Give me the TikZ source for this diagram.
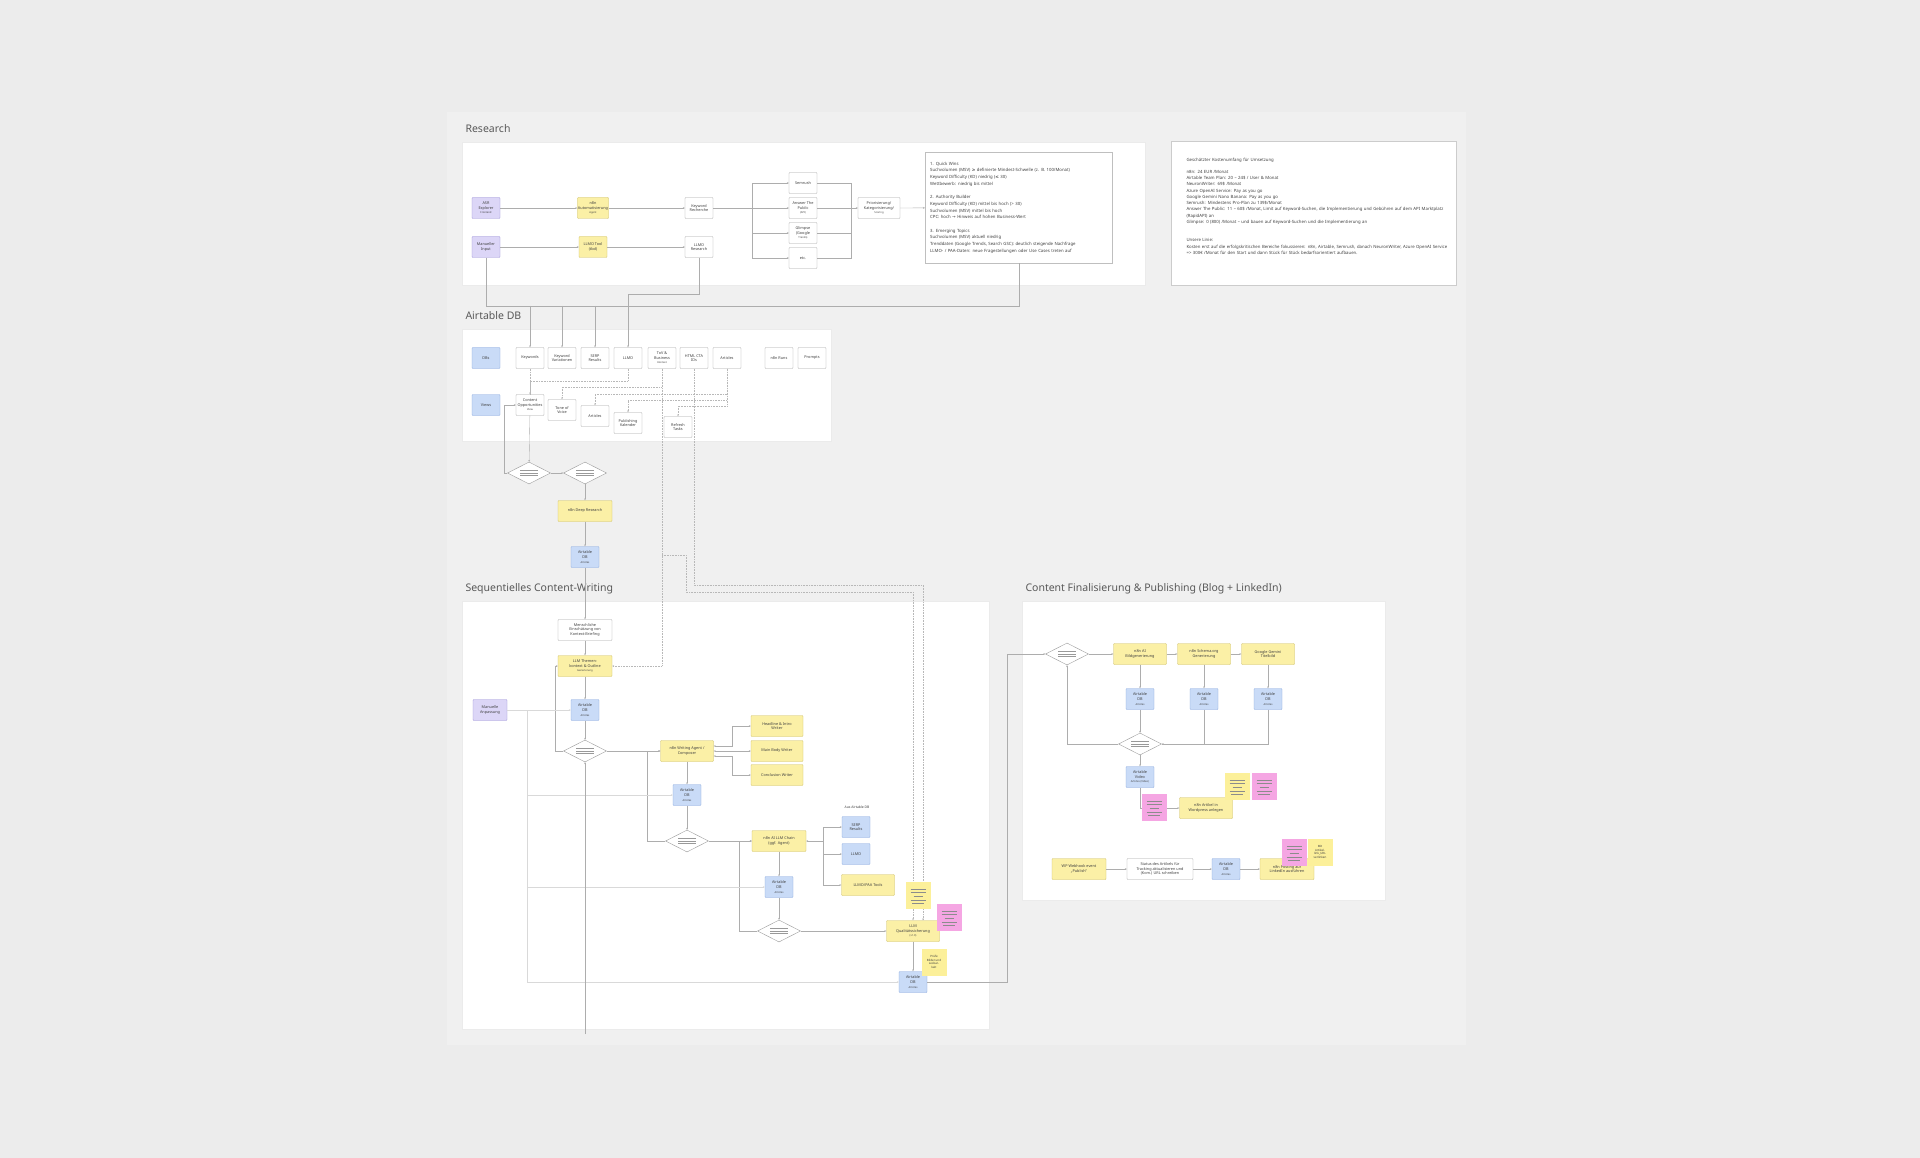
\documentclass[tikz,border=0pt]{standalone}
\usepackage{fontspec}
\setmainfont{Noto Sans}
\newfontfamily\symfont{DejaVu Sans}
\usetikzlibrary{shapes.geometric,arrows.meta,positioning}
\definecolor{bgcol}{HTML}{ECECEC}
\definecolor{framecol}{HTML}{F0F0F0}
\definecolor{mypurple}{HTML}{DCD6F7}
\definecolor{mypurpledraw}{HTML}{9A8FD6}
\definecolor{myyellow}{HTML}{FBF0A6}
\definecolor{myyellowdraw}{HTML}{CDBE63}
\definecolor{myblue}{HTML}{C9DBF7}
\definecolor{mybluedraw}{HTML}{89A8DE}
\definecolor{mypink}{HTML}{F5A6E3}
\definecolor{mysticky}{HTML}{FCF09A}
\newcommand{\smalltxt}[1]{{\fontsize{2.6}{3.2}\selectfont #1}}

\begin{document}
\begin{tikzpicture}[x=1pt,y=-1pt,
  every node/.style={font=\fontsize{3.8}{4.6}\selectfont,text=black!75,align=center},
  box/.style={rectangle,draw,rounded corners=0.8pt,minimum width=28pt,minimum height=21pt,inner sep=0.5pt},
  pbox/.style={box,fill=mypurple,draw=mypurpledraw},
  ybox/.style={box,fill=myyellow,draw=myyellowdraw},
  bbox/.style={box,fill=myblue,draw=mybluedraw},
  wbox/.style={box,fill=white,draw=black!35},
  dia/.style={diamond,draw=black!40,fill=white,minimum width=43pt,minimum height=22pt,inner sep=0pt,
    path picture={\foreach \k in {-1,0,1}{\draw[black!40,line width=0.5pt] (path picture bounding box.center) ++(-9pt,{\k*2.6pt}) -- ++(18pt,0pt);}}},
  sticky/.style={rectangle,minimum width=25pt,minimum height=27pt,inner sep=0pt,
    path picture={\foreach \k/\w in {1/15,2/15,3/9,4/15,5/12}{\draw[black!45,line width=0.6pt] (path picture bounding box.north west) ++({12.5pt-\w*0.5pt},{-4pt-\k*3.6pt}) -- ++(\w pt,0pt);}}},
  ysticky/.style={sticky,fill=mysticky},
  psticky/.style={sticky,fill=mypink},
  tsticky/.style={rectangle,fill=mysticky,minimum width=25pt,minimum height=27pt,inner sep=0.5pt,font=\fontsize{2.9}{3.5}\selectfont},
  panel/.style={fill=white,draw=black!8},
  title/.style={anchor=west,font=\fontsize{10.5}{12}\selectfont,text=black!65},
  conn/.style={draw=black!32,line width=0.35pt},
  arr/.style={conn,-{Stealth[length=2pt,width=1.8pt]}},
  biarr/.style={conn,{Stealth[length=2pt,width=1.8pt]}-{Stealth[length=2pt,width=1.8pt]}},
  dot/.style={arr,draw=black!28,dash pattern=on 0.8pt off 0.8pt},
  faint/.style={arr,draw=black!15}]

\fill[bgcol] (0,0) rectangle (1920,1158);
\useasboundingbox (0,0) rectangle (1920,1158);
\fill[framecol] (447,112) rectangle (1466,1045);

% panels
\node[title] at (462,129) {Research};
\path[panel] (462,142) rectangle (1145,285);
\node[title] at (462,316) {Airtable DB};
\path[panel] (462,329) rectangle (831,441);
\node[title] at (462,589) {Sequentielles Content-Writing};
\path[panel] (462,601) rectangle (989,1029);
\node[title] at (1022,589) {Content Finalisierung \& Publishing (Blog + LinkedIn)};
\path[panel] (1022,601) rectangle (1385,900);
\path[panel,draw=black!20] (1171,141) rectangle (1456,285);

% research
\node[pbox] (asr) at (486,208) {ASR\\Explorer\\\smalltxt{Frontend}};
\node[pbox] (input) at (486,247) {Manueller\\Input};
\node[ybox] (auto) at (593,208) {n8n\\Automatisierung\\\smalltxt{Agent}};
\node[ybox] (llmotool) at (593,247) {LLMO Tool\\(tbd)};
\node[wbox] (kwres) at (699,208) {Keyword\\Recherche};
\node[wbox] (llmores) at (699,247) {LLMO\\Research};
\node[wbox] (semrush) at (803,183) {Semrush};
\node[wbox] (atp) at (803,208) {Answer The\\Public\\\smalltxt{(API)}};
\node[wbox] (glimpse) at (803,233) {Glimpse\\(Google\\\smalltxt{Trends)}};
\node[wbox] (etc) at (803,258) {etc.};
\node[wbox,minimum width=42pt] (score) at (879,208) {Priorisierung/\\Kategorisierung/\\\smalltxt{Scoring}};
\node[wbox,draw=black!25,anchor=north west,minimum width=187pt,minimum height=111pt,text width=177pt,inner sep=5pt,
  align=left,rounded corners=0pt,font=\fontsize{4.3}{6.7}\selectfont] (crit) at (925,152) {%
\textbf{1. Quick Wins}\\
Suchvolumen (MSV) {\symfont ≥} definierte Mindest-Schwelle (z. B. 100/Monat)\\
Keyword Difficulty (KD) niedrig ({\symfont ≤} 30)\\
Wettbewerb: niedrig bis mittel\\[6.7pt]
\textbf{2. Authority Builder}\\
Keyword Difficulty (KD) mittel bis hoch (> 30)\\
Suchvolumen (MSV) mittel bis hoch\\
CPC: hoch {\symfont →} Hinweis auf hohen Business-Wert\\[6.7pt]
\textbf{3. Emerging Topics}\\
Suchvolumen (MSV) aktuell niedrig\\
Trenddaten (Google Trends, Search GSC): deutlich steigende Nachfrage\\
LLMO- / PAA-Daten: neue Fragestellungen oder Use Cases treten auf};

% notes
\node[anchor=north west,text width=262pt,align=left,font=\fontsize{4.3}{6.3}\selectfont] (costs) at (1183,155) {%
\textbf{Geschätzter Kostenumfang für Umsetzung}\\[5pt]
\textbf{n8n:} 24 EUR /Monat\\
\textbf{Airtable Team Plan:} 20 – 24\$ / User \& Monat\\
\textbf{NeuronWriter:} 69\$ /Monat\\
\textbf{Azure OpenAI Service:} Pay as you go\\
\textbf{Google Gemini Nano Banana:} Pay as you go\\
\textbf{Semrush:} Mindestens Pro-Plan zu 139\$/Monat\\
\textbf{Answer The Public:} 11 – 60\$ /Monat, Limit auf Keyword-Suchen, die Implementierung und Gebühren auf dem API Marktplatz (RapidAPI) an\\
\textbf{Glimpse:} 0 (800) /Monat – und bauen auf Keyword-Suchen und die Implementierung an\\[12pt]
Unsere Linie:\\
Kosten erst auf die erfolgskritischen Bereiche fokussieren: n8n, Airtable, Semrush, danach NeuronWriter, Azure OpenAI Service => 300€ /Monat für den Start und dann Stück für Stück bedarfsorientiert aufbauen.};

% airtable
\node[bbox] (dbs) at (486,358) {DBs};
\node[bbox] (views) at (486,405) {Views};
\node[wbox] (a_kw) at (530,358) {Keywords};
\node[wbox] (a_kwv) at (562,358) {Keyword\\Variationen};
\node[wbox] (a_serp) at (595,358) {SERP\\Results};
\node[wbox] (a_llmo) at (628,358) {LLMO};
\node[wbox] (a_tov) at (662,358) {ToV \&\\Business\\\smalltxt{Kontext}};
\node[wbox] (a_cta) at (694,358) {HTML CTA\\IDs};
\node[wbox] (a_art) at (727,358) {Articles};
\node[wbox] (a_runs) at (779,358) {n8n Runs};
\node[wbox] (a_prompts) at (812,358) {Prompts};
\node[wbox] (v_opp) at (530,405) {Content\\Opportunities\\\smalltxt{View}};
\node[wbox] (v_tov) at (562,410) {Tone of\\Voice};
\node[wbox] (v_art) at (595,416) {Articles};
\node[wbox] (v_pub) at (628,423) {Publishing\\Kalender};
\node[wbox] (v_ref) at (678,427) {Refresh\\Tasks};

% deep research
\node[dia] (d1) at (529,473) {};
\node[dia] (d2) at (585,473) {};
\node[ybox,minimum width=54pt] (deep) at (585,511) {n8n Deep Research};
\node[bbox] (deepdb) at (585,557) {Airtable\\DB\\\smalltxt{Articles}};

% writing
\node[wbox,minimum width=54pt] (s_human) at (585,630) {Menschliche\\Einschätzung von\\Kontext-Briefing};
\node[ybox,minimum width=54pt] (s_outline) at (585,666) {LLM Themen-\\kontext \& Outline\\\smalltxt{Generierung}};
\node[bbox] (s_db1) at (585,710) {Airtable\\DB\\\smalltxt{Articles}};
\node[pbox,minimum width=34pt] (s_manual) at (490,710) {Manuelle\\Anpassung};
\node[dia] (s_d1) at (585,751) {};
\node[ybox,minimum width=53pt] (s_comp) at (687,751) {n8n Writing Agent /\\Composer};
\node[ybox,minimum width=52pt] (s_head) at (777,726) {Headline \& Intro\\Writer};
\node[ybox,minimum width=52pt] (s_body) at (777,751) {Main Body Writer};
\node[ybox,minimum width=52pt] (s_concl) at (777,775) {Conclusion Writer};
\node[bbox] (s_db2) at (687,795) {Airtable\\DB\\\smalltxt{Articles}};
\node[dia] (s_d2) at (687,841) {};
\node[ybox,minimum width=54pt] (s_chain) at (779,841) {n8n AI LLM Chain\\(ggf. Agent)};
\node[font=\fontsize{3.4}{4}\selectfont] (s_from) at (857,807) {Aus Airtable DB};
\node[bbox] (s_serp) at (856,827) {SERP\\Results};
\node[bbox] (s_llmo) at (856,854) {LLMO};
\node[ybox,minimum width=53pt] (s_paa) at (868,885) {LLMO/PAA Tools};
\node[bbox] (s_db3) at (779,887) {Airtable\\DB\\\smalltxt{Articles}};
\node[dia] (s_d3) at (779,931) {};
\node[ybox,minimum width=53pt] (s_qa) at (913,931) {LLM\\Qualitätssicherung\\\smalltxt{(v1.0)}};
\node[bbox] (s_db4) at (913,982) {Airtable\\DB\\\smalltxt{Articles}};

% finalisierung
\node[dia] (c_d1) at (1067,654) {};
\node[ybox,minimum width=53pt] (c_img) at (1140,654) {n8n AI\\Bildgenerierung};
\node[ybox,minimum width=53pt] (c_schema) at (1204,654) {n8n Schema.org\\Generierung};
\node[ybox,minimum width=53pt] (c_gem) at (1268,654) {Google Gemini\\Titelbild};
\foreach \n/\x in {c_db1/1140,c_db2/1204,c_db3/1268}
  \node[bbox] (\n) at (\x,699) {Airtable\\DB\\\smalltxt{Articles}};
\node[dia] (c_d2) at (1140,744) {};
\node[bbox] (c_video) at (1140,777) {Airtable\\Video\\\smalltxt{Articles (Video)}};
\node[ybox,minimum width=53pt] (c_wp) at (1206,808) {n8n Artikel in\\Wordpress anlegen};
\node[ybox,minimum width=54pt] (c_hook) at (1079,869) {WP Webhook event\\„Publish“};
\node[wbox,minimum width=66pt] (c_status) at (1160,869) {Status des Artikels für\\Tracking aktualisieren und\\(Kom.) URL schreiben};
\node[bbox] (c_db4) at (1226,869) {Airtable\\DB\\\smalltxt{Articles}};
\node[ybox,minimum width=54pt] (c_li) at (1287,869) {n8n Posting auf\\LinkedIn ausführen};

% research connectors
\draw[arr] (asr) -- (auto);
\draw[arr] (auto) -- (kwres);
\draw[arr] (input) -- (llmotool);
\draw[arr] (llmotool) -- (llmores);
\draw[conn] (kwres.east) -- ++(39,0) coordinate (split);
\foreach \n in {semrush,atp,glimpse,etc}{
  \draw[arr] (split) |- (\n.west);
  \draw[conn] (\n.east) -| ([xshift=34pt]atp.east);}
\draw[arr] ([xshift=34pt]atp.east) -- (score);
\draw[arr] (score) -- (crit);
\coordinate (bus) at (486,306);
\draw[conn] (input.south) -- (bus) -- (bus -| crit.south) -- (crit.south);
\foreach \n in {a_kw,a_kwv,a_serp} \draw[arr] (bus -| \n.north) -- (\n.north);
\draw[arr] (llmores.south) -- ++(0,36) -| (a_llmo.north);

% airtable connectors
\draw[dot] (a_kw) -- (v_opp);
\draw[dot,-] (a_llmo.south) -- ++(0,12.5) -| (a_kw.south |- v_opp.north);
\draw[dot] (a_tov.south) -- ++(0,18.5) -| (v_tov.north);
\draw[dot] (a_art.south) -- ++(0,25.5) -| (v_art.north);
\draw[dot] (a_art.south) -- ++(0,31.5) -| (v_pub.north);
\draw[dot] (a_art.south) -- ++(0,37.5) -| (v_ref.north);
\draw[dot] (a_tov.south) |- (s_outline.east);
\draw[dot] (662,555) -| (686,592) -| (s_qa.north);
\draw[dot] (a_cta.south) |- (923,585) -- ([xshift=10pt]s_qa.north);

% deep research connectors
\draw[arr] (v_opp) -- (d1);
\draw[arr] (d1.west) -- ++(-3,0) |- (v_opp.west);
\draw[arr] (d1) -- (d2);
\draw[arr] (d2) -- (deep);
\draw[arr] (deep) -- (deepdb);
\draw[arr] (deepdb) -- (s_human);

% writing connectors
\draw[arr] (s_human) -- (s_outline);
\draw[arr] (s_outline) -- (s_db1);
\draw[arr] (s_db1) -- (s_d1);
\draw[arr] (s_d1.west) -- ++(-8,0) |- (s_outline.west);
\draw[arr] (s_d1) -- (s_comp);
\draw[biarr] ([yshift=5pt]s_comp.east) -- ++(18,0) |- (s_head.west);
\draw[biarr] (s_comp) -- (s_body);
\draw[biarr] ([yshift=-5pt]s_comp.east) -- ++(18,0) |- (s_concl.west);
\draw[arr] (s_comp) -- (s_db2);
\draw[arr] (s_db2) -- (s_d2);
\draw[arr] (s_d2.west) -- ++(-18,0) |- (s_comp.west);
\draw[arr] (s_d2) -- (s_chain);
\coordinate (fan) at ([xshift=17pt]s_chain.east);
\draw[arr] (fan) -- (s_chain.east);
\foreach \n in {s_serp,s_llmo,s_paa} \draw[arr] (fan) |- (\n.west);
\draw[arr] (s_chain) -- (s_db3);
\draw[arr] (s_db3) -- (s_d3);
\draw[arr] (s_d3.west) -- ++(-18,0) |- (s_chain.west);
\draw[arr] (s_d3) -- (s_qa);
\draw[arr] (s_qa) -- (s_db4);
\coordinate (mbus) at (527,710);
\draw[faint] (s_manual.east) -- (s_db1.west);
\draw[conn,draw=black!15] (mbus) -- (mbus |- s_db4.west);
\foreach \n in {s_db2,s_db3,s_db4} \draw[faint] (mbus |- \n.west) -- (\n.west);
\coordinate (bottomin) at (585,1034);
\draw[arr] (bottomin) -- (s_d1.south);
\draw[arr] (s_db4.east) -- ++(80,0) |- (c_d1.west);

% finalisierung connectors
\draw[arr] (c_d1) -- (c_img);
\draw[arr] (c_img) -- (c_schema);
\draw[arr] (c_schema) -- (c_gem);
\foreach \a/\b in {c_img/c_db1,c_schema/c_db2,c_gem/c_db3} \draw[arr] (\a) -- (\b);
\draw[arr] (c_db1) -- (c_d2);
\draw[arr] (c_db2.south) |- (c_d2.east);
\draw[conn] (c_db3.south) |- (c_d2.east);
\draw[arr] (c_d2.west) -| (c_d1.south);
\draw[arr] (c_d2) -- (c_video);
\draw[arr] (c_video.south) |- (c_wp.west);
\draw[arr] (c_hook) -- (c_status);
\draw[arr] (c_status) -- (c_db4);
\draw[arr] (c_db4) -- (c_li);

% sticky notes
\node[ysticky] (n1) at (918,895) {};
\node[psticky] (n2) at (949,917) {};
\node[tsticky] (n3) at (934,962) {Prüfe\\Bilder und\\Lesbar-\\keit};
\node[psticky] (n4) at (1154,807) {};
\node[ysticky] (n5) at (1237,786) {};
\node[psticky] (n6) at (1264,786) {};
\node[psticky] (n7) at (1294,852) {};
\node[tsticky] (n8) at (1320,852) {Mit\\Artikel-\\link\_URL\\verlinken};
\end{tikzpicture}
\end{document}
